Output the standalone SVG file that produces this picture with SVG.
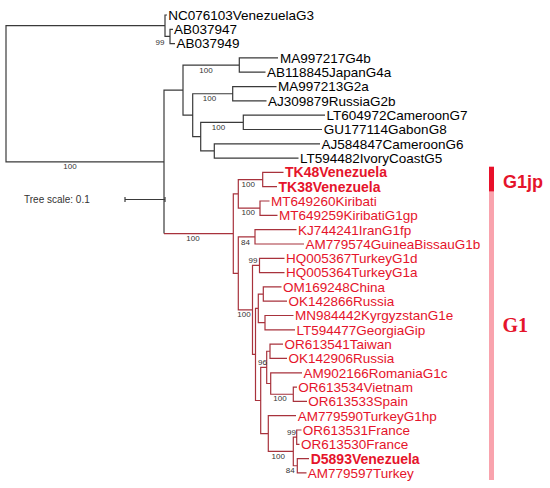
<svg xmlns="http://www.w3.org/2000/svg" width="550" height="488" viewBox="0 0 550 488">
<style>
.bk{fill:none;stroke:#3a3a3a;stroke-width:1.2}
.rd{fill:none;stroke:#a8323c;stroke-width:1.2}
.lf{font-family:"Liberation Sans",Arial,sans-serif;font-size:13.5px;fill:#000}
.lr{font-family:"Liberation Sans",Arial,sans-serif;font-size:13.5px;fill:#e5142b}
.lb{font-family:"Liberation Sans",Arial,sans-serif;font-size:14px;font-weight:bold;fill:#e5142b}
.bs{font-family:"Liberation Sans",Arial,sans-serif;font-size:8px;fill:#333;text-anchor:middle}
.ts{font-family:"Liberation Sans",Arial,sans-serif;font-size:10px;fill:#333}
</style>
<rect width="550" height="488" fill="#fff"/>
<g id="connectors">
<path class="bk" d="M6 93.8V25.7H165 M6 93.8V161.85H164 M165 25.7V15H167 M165 25.7V36.45H170 M170 36.45V29.3H173 M170 36.45V43.6H175 M164 161.85V90.1H183 M183 90.1V65.05H239.3 M239.3 65.05V57.9H278 M239.3 65.05V72.2H265.5 M183 90.1V115.2H192.7 M192.7 115.2V93.75H232.7 M232.7 93.75V86.6H276.5 M232.7 93.75V100.9H266.5 M192.7 115.2V136.65H200.7 M200.7 136.65V122.35H243.3 M243.3 122.35V115.2H325 M243.3 122.35V129.5H322 M200.7 136.65V150.95H214.3 M214.3 150.95V143.8H320 M214.3 150.95V158.1H298.5 M164 161.85V233.6"/>
<path class="rd" d="M164 233.6H233.3 M233.3 233.6V193.85H238.3 M238.3 193.85V179.55H262.7 M262.7 179.55V172.4H283.5 M262.7 179.55V186.7H277 M238.3 193.85V208.15H260 M260 208.15V201H269.5 M260 208.15V215.3H277.5 M233.3 233.6V273.4H238.3 M238.3 273.4V236.85H255 M255 236.85V229.7H296.5 M255 236.85V244H304 M238.3 273.4V309.9H252.5 M252.5 309.9V265.45H259.5 M259.5 265.45V258.3H284.5 M259.5 265.45V272.6H284.5 M252.5 309.9V354.4H255.5 M255.5 354.4V308.35H258.3 M258.3 308.35V294.05H263.3 M263.3 294.05V286.9H281.5 M263.3 294.05V301.2H287 M258.3 308.35V322.65H265 M265 322.65V315.5H293.5 M265 322.65V329.8H295 M255.5 354.4V400.5H260.7 M260.7 400.5V367.4H266.7 M266.7 367.4V351.25H270 M270 351.25V344.1H283 M270 351.25V358.4H287 M266.7 367.4V383.5H270.7 M270.7 383.5V372.8H302 M270.7 383.5V394.25H293.3 M293.3 394.25V387.1H297 M293.3 394.25V401.4H307 M260.7 400.5V433.6H268.3 M268.3 433.6V415.7H296 M268.3 433.6V451.45H293.3 M293.3 451.45V437.15H296.7 M296.7 437.15V430H301.5 M296.7 437.15V444.3H299.5 M293.3 451.45V465.75H297.3 M297.3 465.75V458.6H309 M297.3 465.75V472.9H306.5"/>
</g>
<g id="support">
<text class="bs" x="70" y="169">100</text>
<text class="bs" x="160" y="45">99</text>
<text class="bs" x="206" y="73">100</text>
<text class="bs" x="209.5" y="101">100</text>
<text class="bs" x="218.5" y="130">100</text>
<text class="bs" x="193" y="240.5">100</text>
<text class="bs" x="248.3" y="187">100</text>
<text class="bs" x="248.3" y="215">100</text>
<text class="bs" x="245.5" y="244.5">84</text>
<text class="bs" x="253" y="263">99</text>
<text class="bs" x="244" y="317">100</text>
<text class="bs" x="262.5" y="365">96</text>
<text class="bs" x="280" y="401">100</text>
<text class="bs" x="291.5" y="434.5">99</text>
<text class="bs" x="278.3" y="459">100</text>
<text class="bs" x="290.3" y="473">84</text>
</g>
<g id="n1"><text class="lf" x="168.3" y="19.8">NC076103VenezuelaG3</text></g>
<g id="n2"><text class="lf" x="174" y="34.1">AB037947</text></g>
<g id="n3"><text class="lf" x="176.5" y="48.4">AB037949</text></g>
<g id="n4"><text class="lf" x="280" y="62.7">MA997217G4b</text></g>
<g id="n5"><text class="lf" x="267" y="77">AB118845JapanG4a</text></g>
<g id="n6"><text class="lf" x="278" y="91.4">MA997213G2a</text></g>
<g id="n7"><text class="lf" x="268" y="105.7">AJ309879RussiaG2b</text></g>
<g id="n8"><text class="lf" x="326.6" y="120">LT604972CameroonG7</text></g>
<g id="n9"><text class="lf" x="323.8" y="134.3">GU177114GabonG8</text></g>
<g id="n10"><text class="lf" x="321.6" y="148.6">AJ584847CameroonG6</text></g>
<g id="n11"><text class="lf" x="300" y="162.9">LT594482IvoryCoastG5</text></g>
<g id="n12"><text class="lb" x="285" y="177.3">TK48Venezuela</text></g>
<g id="n13"><text class="lb" x="278.5" y="191.6">TK38Venezuela</text></g>
<g id="n14"><text class="lr" x="271" y="205.8">MT649260Kiribati</text></g>
<g id="n15"><text class="lr" x="279" y="220.1">MT649259KiribatiG1gp</text></g>
<g id="n16"><text class="lr" x="298" y="234.5">KJ744241IranG1fp</text></g>
<g id="n17"><text class="lr" x="305.5" y="248.8">AM779574GuineaBissauG1b</text></g>
<g id="n18"><text class="lr" x="286" y="263.1">HQ005367TurkeyG1d</text></g>
<g id="n19"><text class="lr" x="286" y="277.4">HQ005364TurkeyG1a</text></g>
<g id="n20"><text class="lr" x="283" y="291.7">OM169248China</text></g>
<g id="n21"><text class="lr" x="288.5" y="306">OK142866Russia</text></g>
<g id="n22"><text class="lr" x="295" y="320.3">MN984442KyrgyzstanG1e</text></g>
<g id="n23"><text class="lr" x="296.5" y="334.6">LT594477GeorgiaGip</text></g>
<g id="n24"><text class="lr" x="284.5" y="348.9">OR613541Taiwan</text></g>
<g id="n25"><text class="lr" x="288.5" y="363.2">OK142906Russia</text></g>
<g id="n26"><text class="lr" x="303.5" y="377.6">AM902166RomaniaG1c</text></g>
<g id="n27"><text class="lr" x="298.3" y="391.9">OR613534Vietnam</text></g>
<g id="n28"><text class="lr" x="308.3" y="406.2">OR613533Spain</text></g>
<g id="n29"><text class="lr" x="297.7" y="420.5">AM779590TurkeyG1hp</text></g>
<g id="n30"><text class="lr" x="302.7" y="434.8">OR613531France</text></g>
<g id="n31"><text class="lr" x="301" y="449.1">OR613530France</text></g>
<g id="n32"><text class="lb" x="310.7" y="463.5">D5893Venezuela</text></g>
<g id="n33"><text class="lr" x="307.7" y="477.7">AM779597Turkey</text></g>
<g id="scale">
<text class="ts" x="24" y="203">Tree scale: 0.1</text>
<path class="bk" d="M125 199.5H165 M125 197V202 M165 197V202" stroke-width="0.8"/>
</g>
<g id="groups">
<rect x="489" y="166.7" width="5" height="25" fill="#e8102a"/>
<rect x="489" y="191.7" width="5" height="288.3" fill="#f9a3ad"/>
<text x="503" y="188" font-family="'Liberation Sans',Arial,sans-serif" font-size="18" font-weight="bold" fill="#e5142b">G1jp</text>
<text x="502.5" y="331.5" font-family="'Liberation Serif','Times New Roman',serif" font-size="20" font-weight="bold" fill="#e5142b">G1</text>
</g>
</svg>
